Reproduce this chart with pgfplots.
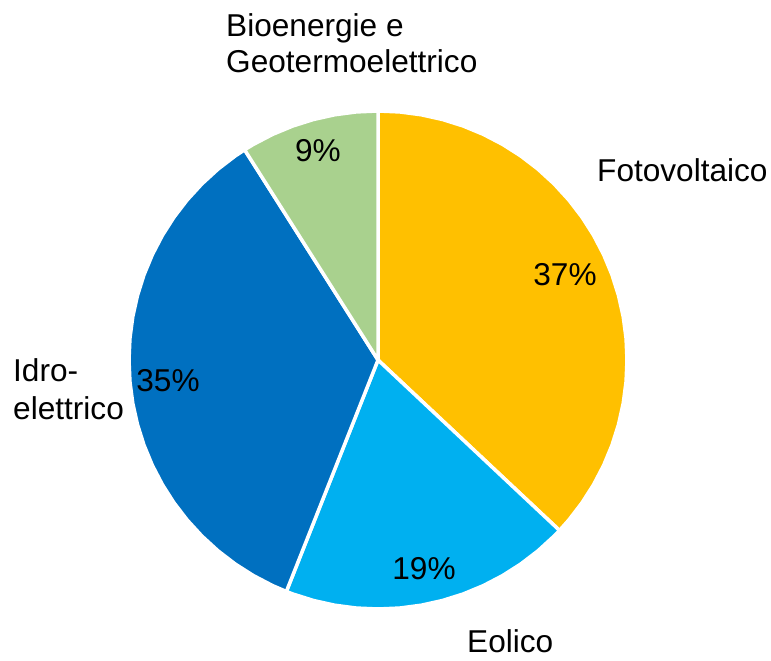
\documentclass[border=0pt]{standalone}
\usepackage{pgfplots}
\pgfplotsset{compat=1.18}
\usepackage{fontspec}
\setmainfont{Liberation Sans}
\definecolor{foto}{HTML}{FFC000}
\definecolor{eolico}{HTML}{00B0F0}
\definecolor{idro}{HTML}{0070C0}
\definecolor{bio}{HTML}{A9D18E}

\begin{document}
\begin{tikzpicture}
\begin{axis}[x=1bp, y=1bp, xmin=-378, xmax=393, ymin=-301, ymax=360,
  hide axis, clip=false, data cs=polar,
  every axis plot/.append style={draw=white, line width=3.5bp, line join=round},
  nodes={font=\fontsize{31.6bp}{36bp}\selectfont}]
% slices: 37% Fotovoltaico, 19% Eolico, 35% Idroelettrico, 9% Bioenergie (clockwise from top, r = 249)
\addplot[fill=foto] coordinates {(0,0) (90,249) (85,249) (80,249) (75,249) (70,249) (65,249) (60,249) (55,249) (50,249) (45,249) (40,249) (35,249) (30,249) (25,249) (20,249) (15,249) (10,249) (5,249) (0,249) (-5,249) (-10,249) (-15,249) (-20,249) (-25,249) (-30,249) (-35,249) (-40,249) (-43.2,249)} -- cycle;
\addplot[fill=eolico] coordinates {(0,0) (-43.2,249) (-45,249) (-50,249) (-55,249) (-60,249) (-65,249) (-70,249) (-75,249) (-80,249) (-85,249) (-90,249) (-95,249) (-100,249) (-105,249) (-110,249) (-111.6,249)} -- cycle;
\addplot[fill=idro] coordinates {(0,0) (-111.6,249) (-115,249) (-120,249) (-125,249) (-130,249) (-135,249) (-140,249) (-145,249) (-150,249) (-155,249) (-160,249) (-165,249) (-170,249) (-175,249) (-180,249) (-185,249) (-190,249) (-195,249) (-200,249) (-205,249) (-210,249) (-215,249) (-220,249) (-225,249) (-230,249) (-235,249) (-237.6,249)} -- cycle;
\addplot[fill=bio] coordinates {(0,0) (-237.6,249) (-240,249) (-245,249) (-250,249) (-255,249) (-260,249) (-265,249) (-270,249)} -- cycle;
% percentages
\node[anchor=base] at (axis cs:187,74) {37\%};
\node[anchor=base] at (axis cs:46,-220) {19\%};
\node[anchor=base] at (axis cs:-210,-32) {35\%};
\node[anchor=base] at (axis cs:-60,198) {9\%};
% category names
\node[anchor=base west, inner sep=0pt] at (axis cs:219,178) {Fotovoltaico};
\node[anchor=base west, inner sep=0pt] at (axis cs:89,-293) {Eolico};
\node[anchor=base west, inner sep=0pt] at (axis cs:-365,-22) {Idro-};
\node[anchor=base west, inner sep=0pt] at (axis cs:-365,-60) {elettrico};
\node[anchor=base west, inner sep=0pt] at (axis cs:-152,323) {Bioenergie e};
\node[anchor=base west, inner sep=0pt] at (axis cs:-152,287) {Geotermoelettrico};
\path (rel axis cs:0,0) rectangle (rel axis cs:1,1);
\end{axis}
\end{tikzpicture}
\end{document}
